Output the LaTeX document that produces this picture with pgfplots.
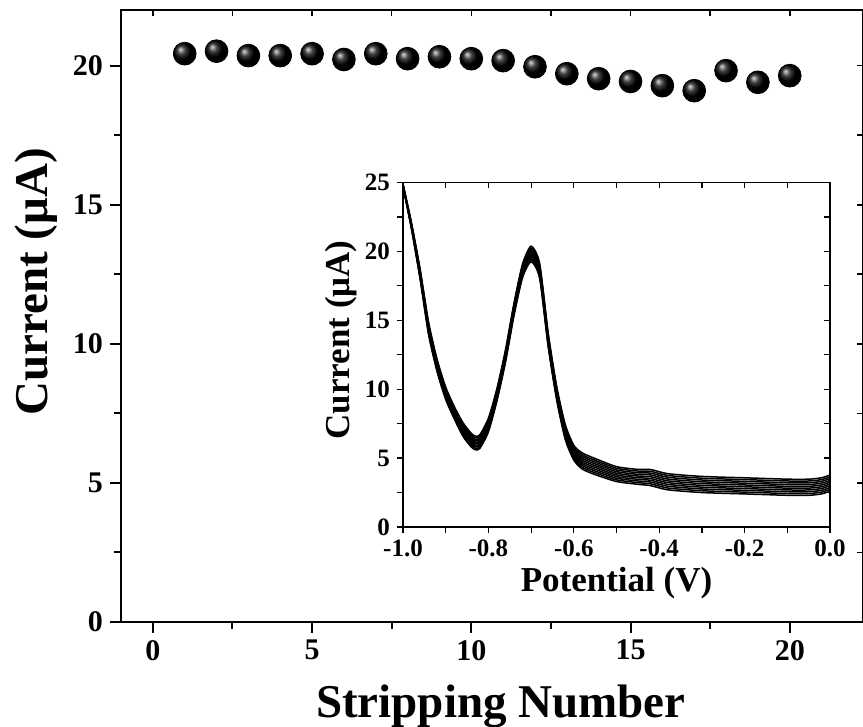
\documentclass[border=0pt]{standalone}
\usepackage{pgfplots}
\pgfplotsset{compat=1.18}
\usepackage{pgfplotstable}
\usepackage{fontspec}
\setmainfont{Liberation Serif}

\pgfplotstableread{
n i
1 20.43
2 20.52
3 20.36
4 20.36
5 20.43
6 20.22
7 20.43
8 20.25
9 20.32
10 20.25
11 20.18
12 19.96
13 19.71
14 19.53
15 19.43
16 19.28
17 19.10
18 19.82
19 19.40
20 19.64
}\stab

\pgfplotstableread{
x y0 y1 y2 y3 y4 y5 y6 y7 y8 y9
-1.00 24.70 24.72 24.74 24.76 24.78 24.80 24.82 24.84 24.86 24.88
-0.98 21.60 21.65 21.70 21.75 21.80 21.85 21.90 21.95 22.00 22.05
-0.96 18.00 18.08 18.16 18.24 18.32 18.40 18.48 18.56 18.64 18.72
-0.94 13.95 14.05 14.15 14.25 14.35 14.45 14.55 14.65 14.75 14.85
-0.92 11.25 11.35 11.45 11.55 11.65 11.75 11.85 11.95 12.05 12.15
-0.90 9.25 9.35 9.45 9.55 9.65 9.75 9.85 9.95 10.05 10.15
-0.88 7.85 7.95 8.05 8.15 8.25 8.35 8.45 8.55 8.65 8.75
-0.86 6.60 6.71 6.82 6.93 7.04 7.15 7.26 7.37 7.48 7.59
-0.84 5.80 5.91 6.02 6.13 6.24 6.35 6.46 6.57 6.68 6.79
-0.83 5.60 5.71 5.82 5.93 6.04 6.15 6.26 6.37 6.48 6.59
-0.82 5.70 5.81 5.92 6.03 6.14 6.25 6.36 6.47 6.58 6.69
-0.80 6.90 7.01 7.12 7.23 7.34 7.45 7.56 7.67 7.78 7.89
-0.78 9.15 9.25 9.35 9.45 9.55 9.65 9.75 9.85 9.95 10.05
-0.76 11.95 12.05 12.15 12.25 12.35 12.45 12.55 12.65 12.75 12.85
-0.74 15.35 15.45 15.55 15.65 15.75 15.85 15.95 16.05 16.15 16.25
-0.72 18.10 18.21 18.32 18.43 18.54 18.65 18.76 18.87 18.98 19.09
-0.70 19.25 19.38 19.50 19.63 19.75 19.88 20.00 20.13 20.25 20.38
-0.68 18.05 18.17 18.29 18.41 18.53 18.65 18.77 18.89 19.01 19.13
-0.66 13.10 13.21 13.32 13.43 13.54 13.65 13.76 13.87 13.98 14.09
-0.64 9.20 9.31 9.42 9.53 9.64 9.75 9.86 9.97 10.08 10.19
-0.62 6.35 6.47 6.59 6.71 6.83 6.95 7.07 7.19 7.31 7.43
-0.60 4.85 4.97 5.09 5.21 5.33 5.45 5.57 5.69 5.81 5.93
-0.58 4.20 4.33 4.46 4.59 4.72 4.85 4.98 5.11 5.24 5.37
-0.55 3.80 3.93 4.06 4.19 4.32 4.45 4.58 4.71 4.84 4.97
-0.50 3.30 3.42 3.54 3.66 3.78 3.90 4.02 4.14 4.26 4.38
-0.45 3.10 3.22 3.34 3.46 3.58 3.70 3.82 3.94 4.06 4.18
-0.42 3.00 3.13 3.26 3.39 3.52 3.65 3.78 3.91 4.04 4.17
-0.38 2.70 2.83 2.96 3.09 3.22 3.35 3.48 3.61 3.74 3.87
-0.30 2.50 2.63 2.76 2.89 3.02 3.15 3.28 3.41 3.54 3.67
-0.20 2.40 2.53 2.66 2.79 2.92 3.05 3.18 3.31 3.44 3.57
-0.10 2.30 2.43 2.56 2.69 2.82 2.95 3.08 3.21 3.34 3.47
-0.05 2.30 2.43 2.56 2.69 2.82 2.95 3.08 3.21 3.34 3.47
-0.02 2.40 2.53 2.66 2.79 2.92 3.05 3.18 3.31 3.44 3.57
0.00 2.60 2.73 2.86 2.99 3.12 3.25 3.38 3.51 3.64 3.77
}\dpv

\begin{document}
\begin{tikzpicture}
\path[use as bounding box] (-60.5pt,-52.5pt) rectangle (371pt,311pt);
% ---------- main axis ----------
\begin{axis}[
  at={(0,0)}, anchor=south west,
  scale only axis, width=371pt, height=306pt,
  xmin=-1, xmax=22.3, ymin=0, ymax=22,
  xtick={0,5,10,15,20}, ytick={0,5,10,15,20},
  minor x tick num=1, minor y tick num=1,
  xtick pos=bottom, ytick pos=left,
  tick align=outside,
  major tick length=5.5pt, minor tick length=3.5pt,
  tick style={line width=1pt, black},
  axis line style={line width=1pt},
  /pgf/number format/assume math mode=true,
  ticklabel style={font=\fontsize{15}{18}\selectfont\bfseries},
  xlabel={Stripping Number},
  ylabel={Current (μA)},
  label style={font=\fontsize{23.5}{28}\selectfont\bfseries},
  xlabel style={at={(axis description cs:0.512,0)}, anchor=center, yshift=-42pt},
  ylabel style={at={(axis description cs:-0.1146,0.556)}, anchor=center},
  clip=false,
]
\addplot[only marks, mark=ball, mark size=5.7pt, ball color=black] table[x=n,y=i]{\stab};
\end{axis}
\begin{axis}[
  at={(0,0)}, anchor=south west,
  scale only axis, width=371pt, height=306pt,
  xmin=-1, xmax=22.3, ymin=0, ymax=22,
  xtick={0,5,10,15,20}, ytick={0,5,10,15,20},
  minor x tick num=1, minor y tick num=1,
  xtick pos=top, ytick pos=right,
  tick align=inside,
  major tick length=3pt, minor tick length=3pt,
  tick style={line width=0.8pt, black},
  axis line style={line width=1pt},
  xticklabels={}, yticklabels={},
]
\end{axis}
% ---------- inset ----------
\begin{axis}[
  at={(141pt,47.5pt)}, anchor=south west,
  scale only axis, width=213.5pt, height=172.25pt,
  xmin=-1, xmax=0, ymin=0, ymax=25,
  xtick={-1,-0.8,-0.6,-0.4,-0.2,0},
  xticklabels={-1.0,-0.8,-0.6,-0.4,-0.2,0.0},
  ytick={0,5,10,15,20,25},
  minor x tick num=1, minor y tick num=1,
  xtick pos=bottom, ytick pos=left,
  tick align=outside,
  major tick length=3pt, minor tick length=3pt,
  tick style={line width=0.6pt, black},
  axis line style={line width=0.6pt},
  /pgf/number format/assume math mode=true,
  ticklabel style={font=\fontsize{12.5}{14}\selectfont\bfseries},
  xlabel={Potential (V)},
  ylabel={Current (μA)},
  label style={font=\fontsize{17.5}{20}\selectfont\bfseries},
  xlabel style={at={(axis description cs:0.5,0)}, anchor=center, yshift=-28pt},
  ylabel style={at={(axis description cs:-0.145,0.543)}, anchor=center},
]
\pgfplotsinvokeforeach{0,...,9}{
  \addplot[black, line width=0.75pt, smooth, tension=0.4] table[x=x,y=y#1]{\dpv};
}
\end{axis}
\begin{axis}[
  at={(141pt,47.5pt)}, anchor=south west,
  scale only axis, width=213.5pt, height=172.25pt,
  xmin=-1, xmax=0, ymin=0, ymax=25,
  xtick={-1,-0.8,-0.6,-0.4,-0.2,0},
  ytick={0,5,10,15,20,25},
  minor x tick num=1, minor y tick num=1,
  xtick pos=top, ytick pos=right,
  tick align=inside,
  major tick length=3pt, minor tick length=3pt,
  tick style={line width=0.6pt, black},
  axis line style={line width=0.6pt},
  xticklabels={}, yticklabels={},
]
\end{axis}
\end{tikzpicture}
\end{document}
